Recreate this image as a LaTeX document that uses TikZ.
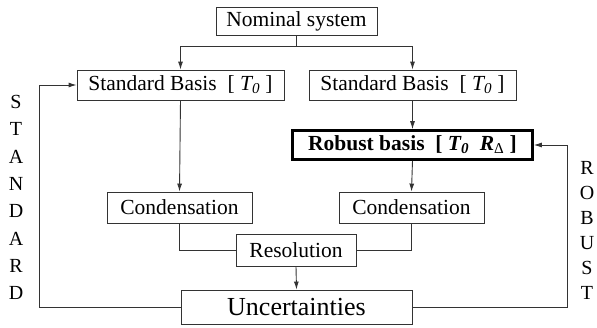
\documentclass[tikz,border=0pt]{standalone}
\usepackage{fontspec}
\setmainfont{Liberation Serif}
\usetikzlibrary{arrows.meta}
\begin{document}
\begin{tikzpicture}[x=1pt,y=-1pt,
  box/.style={draw=black!80, line width=0.9pt, inner sep=0pt, font=\fontsize{21.5}{26}\selectfont},
  arr/.style={draw=black!80, line width=0.9pt, -{Latex[length=8pt,width=5pt]}},
  ln/.style={draw=black!80, line width=0.9pt},
  letter/.style={font=\fontsize{20}{22}\selectfont}]
\fill[white] (0,0) rectangle (597,327);
\useasboundingbox (0,0) rectangle (597,327);
\node[box, minimum width=161, minimum height=28] (nominal) at (296.5,21) {Nominal system};
\node[box, minimum width=207, minimum height=30] (stdL) at (180.5,85) {Standard Basis \ [ \textit{T\textsubscript{0}} ]};
\node[box, minimum width=207, minimum height=30] (stdR) at (412.5,85) {Standard Basis \ [ \textit{T\textsubscript{0}} ]};
\node[box, draw=black, line width=2.6pt, minimum width=240, minimum height=29] (robust) at (412.5,145) {\textbf{Robust basis \ [ \textit{T\textsubscript{0}} \ \textit{R}\textsubscript{\mdseries Δ} ]}};
\node[box, minimum width=145, minimum height=31] (condL) at (179.5,207.5) {Condensation};
\node[box, minimum width=145, minimum height=31] (condR) at (411.5,207.5) {Condensation};
\node[box, minimum width=120, minimum height=32] (resol) at (296,250) {Resolution};
\node[box, minimum width=231, minimum height=34, font=\fontsize{26}{30}\selectfont] (unc) at (296.5,307) {Uncertainties};
\coordinate (br) at (296.5,46);
\coordinate (fl) at (39,307);
\coordinate (fr) at (567,307);
\draw[ln] (nominal.south) -- (br);
\draw[arr] (br) -| (stdL.north);
\draw[arr] (br) -| (stdR.north);
\draw[arr] (stdL.south) -- (condL.north);
\draw[arr] (stdR.south) -- (robust.north);
\draw[arr] (robust.south) -- (condR.north);
\draw[ln] (condL.south) |- (resol.west);
\draw[ln] (condR.south) |- (resol.east);
\draw[arr] (resol.south) -- (unc.north);
\draw[arr] (unc.west) -- (fl) |- (stdL.west);
\draw[arr] (unc.east) -- (fr) |- (robust.east);
\foreach \c [count=\i from 0] in {S,T,A,N,D,A,R,D}
  \node[letter] (s\i) at (16,102+27.3*\i) {\c};
\foreach \c [count=\i from 0] in {R,O,B,U,S,T}
  \node[letter] (r\i) at (587,168+25*\i) {\c};
\end{tikzpicture}
\end{document}
